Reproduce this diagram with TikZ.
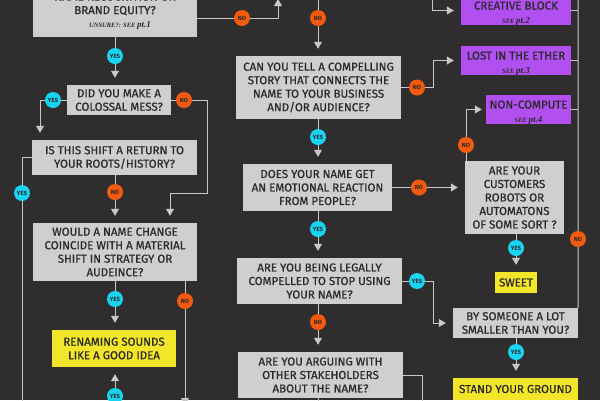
\documentclass[tikz,border=0pt]{standalone}
\usepackage{fontspec}
\setmainfont{Fira Sans}[RawFeature={embolden=0.8}]
\newfontfamily\serifit{Liberation Serif}
\newfontfamily\labfont{Fira Sans}
\usetikzlibrary{arrows.meta}
\definecolor{bg}{HTML}{302D2E}
\definecolor{boxg}{HTML}{CFCFCF}
\definecolor{lineg}{HTML}{C8C8C8}
\definecolor{nored}{HTML}{F25A0F}
\definecolor{yescyan}{HTML}{18D4F0}
\definecolor{purp}{HTML}{B24FF0}
\definecolor{yel}{HTML}{F3E62A}
\definecolor{txt}{HTML}{2A2A2A}
\newcommand{\seenote}[2]{{\serifit\bfseries\itshape\fontsize{6.5}{13.5}\selectfont #1 }{\serifit\bfseries\itshape\fontsize{9}{13.5}\selectfont #2}}
\newcommand{\topstrut}{\rule{0pt}{13.5pt}}
\begin{document}
\begin{tikzpicture}[x=1pt,y=-1pt,
  box/.style={fill=boxg, inner sep=0pt, align=center, text=txt,
    font=\fontsize{11.5}{13.5}\selectfont},
  pbox/.style={box, fill=purp},
  ybox/.style={box, fill=yel},
  yes/.style={circle, fill=yescyan, minimum size=16pt, inner sep=0pt,
    font=\labfont\fontsize{6}{6}\selectfont\bfseries, text=txt},
  no/.style={yes, fill=nored},
  ln/.style={draw=lineg, line width=1pt},
  tip/.style={ln, -{Triangle[width=8pt,length=7pt]}},
  arr/.style={tip, shorten >=7pt},
]
\fill[bg] (0,0) rectangle (600,400);
\useasboundingbox (0,0) rectangle (600,400);

% boxes
\node[box, minimum width=164pt, minimum height=52pt] (b1) at (115,11)
  {NAME RECOGNITION OR\\BRAND EQUITY?\\\hspace*{10pt}\seenote{UNSURE?: SEE}{pt.1}};
\node[box, minimum width=104pt, minimum height=30pt] (b2) at (119,100)
  {DID YOU MAKE A\\COLOSSAL MESS?};
\node[box, minimum width=165pt, minimum height=35pt] (b3) at (114.5,157.5)
  {IS THIS SHIFT A RETURN TO\\YOUR ROOTS/HISTORY?};
\node[box, minimum width=164pt, minimum height=58pt] (b4) at (115,252)
  {WOULD A NAME CHANGE\\COINCIDE WITH A MATERIAL\\SHIFT IN STRATEGY OR\\AUDEINCE?};
\node[ybox, minimum width=124pt, minimum height=37pt] (b5) at (114,348.5)
  {RENAMING SOUNDS\\LIKE A GOOD IDEA};
\node[box, minimum width=165pt, minimum height=63pt] (b6) at (318.5,87.5)
  {CAN YOU TELL A COMPELLING\\STORY THAT CONNECTS THE\\NAME TO YOUR BUSINESS\\AND/OR AUDIENCE?};
\node[box, minimum width=149pt, minimum height=47pt] (b7) at (317.5,187.5)
  {DOES YOUR NAME GET\\AN EMOTIONAL REACTION\\FROM PEOPLE?};
\node[box, minimum width=165pt, minimum height=46pt] (b8) at (319.5,281)
  {ARE YOU BEING LEGALLY\\COMPELLED TO STOP USING\\YOUR NAME?};
\node[box, minimum width=165pt, minimum height=46pt] (b9) at (320.5,375)
  {ARE YOU ARGUING WITH\\OTHER STAKEHOLDERS\\ABOUT THE NAME?};
\node[pbox, minimum width=110pt, minimum height=29pt] (p1) at (516,10.5)
  {\topstrut CREATIVE BLOCK\\\seenote{SEE}{pt.2}};
\node[pbox, minimum width=110pt, minimum height=29pt] (p2) at (516,60.5)
  {\topstrut LOST IN THE ETHER\\\seenote{SEE}{pt.3}};
\node[pbox, minimum width=85pt, minimum height=29pt] (p3) at (528.5,109.5)
  {\topstrut NON-COMPUTE\\\seenote{SEE}{pt.4}};
\node[box, minimum width=99pt, minimum height=73pt] (r1) at (514.5,197.5)
  {ARE YOUR\\CUSTOMERS\\ROBOTS OR\\AUTOMATONS\\OF SOME SORT ?};
\node[ybox, minimum width=42pt, minimum height=21pt] (sw) at (516,282.5) {SWEET};
\node[box, minimum width=125pt, minimum height=30pt] (r2) at (515.5,323)
  {BY SOMEONE A LOT\\SMALLER THAN YOU?};
\node[ybox, minimum width=125pt, minimum height=22pt] (r3) at (515.5,389)
  {STAND YOUR GROUND};

% yes / no markers
\node[no]  (n1)  at (242,18)  {NO};
\node[yes] (y1)  at (115,56)  {YES};
\node[yes] (y2)  at (53,100)  {YES};
\node[no]  (n2)  at (184,100) {NO};
\node[yes] (y3)  at (22,193)  {YES};
\node[no]  (n3)  at (115,192) {NO};
\node[yes] (y4)  at (115,299) {YES};
\node[no]  (n4)  at (185,301) {NO};
\node[yes] (y5)  at (115,396) {YES};
\node[no]  (n5)  at (318,18)  {NO};
\node[no]  (n6)  at (417,87.5) {NO};
\node[yes] (y6)  at (318,137) {YES};
\node[no]  (n7)  at (419,187.5) {NO};
\node[yes] (y7)  at (318,229) {YES};
\node[yes] (y8)  at (417,281) {YES};
\node[no]  (n8)  at (318,322) {NO};
\node[no]  (n9)  at (466,145) {NO};
\node[yes] (y9)  at (516,248) {YES};
\node[no]  (n10) at (578,239) {NO};
\node[yes] (y10) at (516,352) {YES};

% free ends and bends
\coordinate (t1) at (278,-1);
\coordinate (k2) at (40,100);
\coordinate (k3a) at (207,100);
\coordinate (k3b) at (207,193);
\coordinate (k3c) at (170,193);
\coordinate (k4) at (22,157.5);
\coordinate (k4b) at (22,405);
\coordinate (k5) at (185,405);
\coordinate (k6) at (115,410);
\coordinate (k7) at (318,-2);
\coordinate (k8) at (433,87.5);
\coordinate (k9) at (432,-2);
\coordinate (k10) at (433,281);
\coordinate (k11) at (422,375);
\coordinate (k11b) at (422,405);
\coordinate (k12) at (318,405);
\coordinate (k13) at (578,-2);

% connectors
\draw[tip] (b1.east |- n1) -- (n1) -| (t1);
\draw[arr] (b1.south -| y1) -- (y1) -- (y1 |- b2.north);
\draw[arr] (b2.west) -- (y2) -- (k2) -- (k2 |- b3.north);
\draw[arr] (b2.east) -- (n2) -- (k3a) -- (k3b) -- (k3c) -- (k3c |- b4.north);
\draw[ln] (b3.west) -- (k4) -- (y3) -- (k4b);
\draw[arr] (b3.south -| n3) -- (n3) -- (n3 |- b4.north);
\draw[arr] (b4.south -| y4) -- (y4) -- (y4 |- b5.north);
\draw[tip] (b4.south -| n4) -- (n4) -- (k5);
\draw[arr] (k6) -- (y5) -- (y5 |- b5.south);
\draw[arr] (k7) -- (n5) -- (n5 |- b6.north);
\draw[arr] (b6.east) -- (n6) -- (k8) |- (p2.west);
\draw[arr] (k9) |- (p1.west);
\draw[arr] (b6.south -| y6) -- (y6) -- (y6 |- b7.north);
\draw[arr] (b7.east) -- (n7) -- (n7 -| r1.west);
\draw[arr] (b7.south -| y7) -- (y7) -- (y7 |- b8.north);
\draw[arr] (b8.east) -- (y8) -- (k10) |- (r2.west);
\draw[arr] (b8.south -| n8) -- (n8) -- (n8 |- b9.north);
\draw[ln] (b9.east) -- (k11) -- (k11b);
\draw[ln] (b9.south -| k12) -- (k12);
\draw[tip, shorten >=4pt] (r1.north -| n9) -- (n9) |- (p3.west);
\draw[arr] (r1.south -| y9) -- (y9) -- (y9 |- sw.north);
\draw[arr] (r2.south -| y10) -- (y10) -- (y10 |- r3.north);
\draw[ln] (r2.north east) -- (n10) -- (k13);
\draw[ln] (p1.east) -- (p1.east -| k13);
\draw[ln] (p2.east) -- (p2.east -| k13);
\draw[ln] (p3.east) -- (p3.east -| k13);
\end{tikzpicture}
\end{document}
